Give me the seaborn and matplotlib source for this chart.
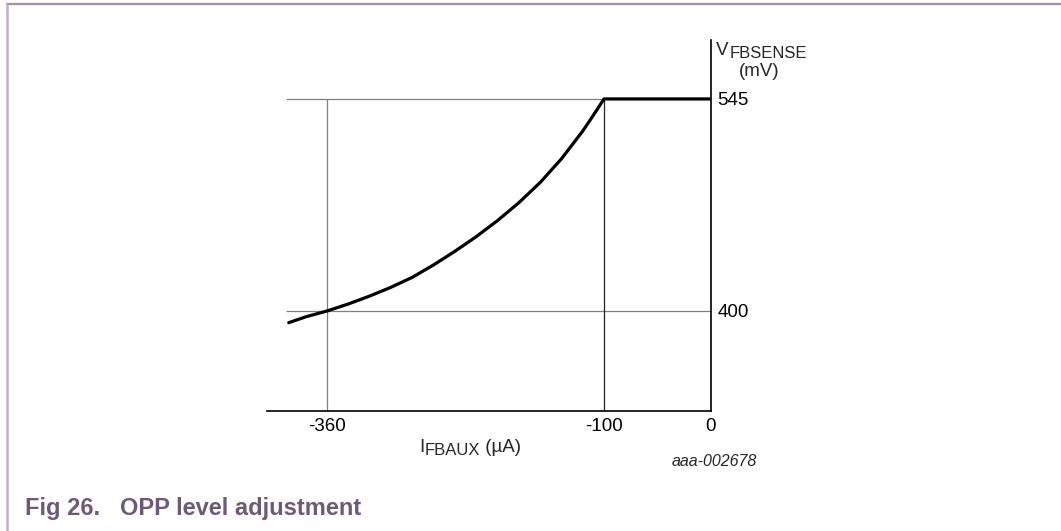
import matplotlib
matplotlib.use("Agg")
import matplotlib.pyplot as plt
import seaborn as sns
import pandas as pd
from matplotlib.lines import Line2D

# curve: I_FBAUX (uA) vs V_FBSENSE (mV)
ifbaux = [-396, -380, -360, -340, -320, -300, -280, -260, -240, -220,
          -200, -180, -160, -140, -120, -110, -100, 0]
vfbsense = [392.0, 396.0, 400.0, 404.8, 410.2, 416.2, 423.0, 431.5, 440.8, 450.8,
            461.8, 474.0, 487.8, 504.0, 523.0, 533.8, 545.0, 545.0]

x_ticks = [-360, -100, 0]
x_tick_labels = ["-360", "-100", "0"]
y_ticks = [400, 545]
y_tick_labels = ["400", "545"]

W, H = 1061, 531
FRAME = "#a090a8"
CAPTION = "#6e5a78"

sns.set_theme(style="white")
plt.rcParams["font.family"] = ["Liberation Sans", "DejaVu Sans"]

fig = plt.figure(figsize=(W / 100, H / 100), dpi=100)
ax = fig.add_axes([267 / W, 1 - 411 / H, 443.5 / W, 371 / H])

df = pd.DataFrame({"ifbaux": ifbaux, "vfbsense": vfbsense})

xlim = (-416.4, 0)
ylim = (331.6, 585.3)
guide_left = ifbaux[0] - 2.5

# thin guide lines
ax.hlines(y_ticks, guide_left, x_ticks[-1], colors="#808080", linewidth=0.9, zorder=1)
ax.vlines(x_ticks[:-1], ylim[0], max(y_ticks), colors=["#808080", "#222222"],
          linewidth=0.9, zorder=1)

sns.lineplot(data=df, x="ifbaux", y="vfbsense", sort=False, estimator=None,
             color="black", linewidth=2.3, ax=ax, zorder=3)

ax.set_xlim(*xlim)
ax.set_ylim(*ylim)
for side in ["top", "left"]:
    ax.spines[side].set_visible(False)
for side in ["bottom", "right"]:
    ax.spines[side].set_color("black")
    ax.spines[side].set_linewidth(1.2)

ax.set_xticks(x_ticks)
ax.set_xticklabels(x_tick_labels)
ax.yaxis.tick_right()
ax.set_yticks(y_ticks)
ax.set_yticklabels(y_tick_labels)
ax.tick_params(axis="both", length=0, labelsize=13.5, colors="black")
ax.tick_params(axis="x", pad=5)
ax.tick_params(axis="y", pad=5)
ax.set_xlabel("")
ax.set_ylabel("")

# y axis title: V_FBSENSE (mV)
v = fig.text(716 / W, 1 - 55 / H, "V", fontsize=13.5, va="baseline", ha="left")
ax.annotate("FBSENSE", xy=(1, 0), xycoords=v, xytext=(0.5, -1.5),
            textcoords="offset points", fontsize=12, va="bottom", ha="left")
fig.text(739 / W, 1 - 76 / H, "(mV)", fontsize=13.5, va="baseline", ha="left")

# x axis title: I_FBAUX (uA)
i_txt = fig.text(419 / W, 1 - 452 / H, "I", fontsize=13.5, va="baseline", ha="left")
sub = ax.annotate("FBAUX", xy=(1, 0), xycoords=i_txt, xytext=(0.5, -1.5),
                  textcoords="offset points", fontsize=12, va="bottom", ha="left")
ax.annotate(" (µA)", xy=(1, 0), xycoords=sub, xytext=(0, 1.2),
            textcoords="offset points", fontsize=13.5, va="bottom", ha="left")

fig.text(714 / W, 1 - 466 / H, "aaa-002678", fontsize=11.5, style="italic",
         va="baseline", ha="center")

# page frame and caption
fig.add_artist(Line2D([7 / W, 1], [1 - 4 / H, 1 - 4 / H], color=FRAME,
                      linewidth=1.6, transform=fig.transFigure))
fig.add_artist(Line2D([7 / W, 7 / W], [1 - 4 / H, 0], color="#bdb2c4",
                      linewidth=1.8, transform=fig.transFigure))
fig.text(25 / W, 1 - 509 / H, "Fig 26.   OPP level adjustment", fontsize=17,
         fontweight="bold", color=CAPTION, va="center", ha="left")

fig.savefig("out.png", dpi=100)
